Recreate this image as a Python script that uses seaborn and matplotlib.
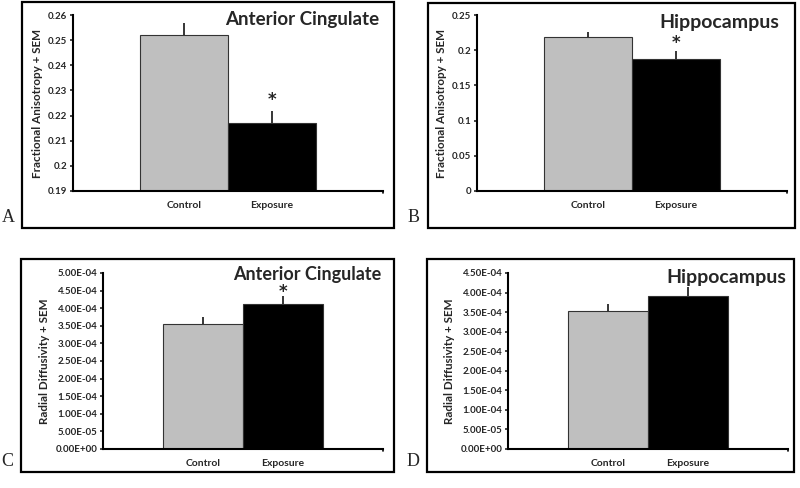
import matplotlib
matplotlib.use("Agg")
import matplotlib.pyplot as plt
import matplotlib.patches as mpatches
import seaborn as sns
import numpy as np

# ---- data ----
groups = ["Control", "Exposure"]

fa_acc_mean = [0.252, 0.217]
fa_acc_sem = [0.005, 0.005]
fa_hip_mean = [0.219, 0.188]
fa_hip_sem = [0.007, 0.011]

rd_acc_mean = [3.55e-4, 4.13e-4]
rd_acc_sem = [0.20e-4, 0.21e-4]
rd_hip_mean = [3.53e-4, 3.90e-4]
rd_hip_sem = [0.18e-4, 0.24e-4]

signif_acc_fa = [False, True]
signif_hip_fa = [False, True]
signif_acc_rd = [False, True]
signif_hip_rd = [False, False]

fa_ticks_acc = [0.19, 0.2, 0.21, 0.22, 0.23, 0.24, 0.25, 0.26]
fa_ticks_hip = [0, 0.05, 0.1, 0.15, 0.2, 0.25]
rd_ticks_acc = np.arange(0, 5.01e-4, 0.5e-4)
rd_ticks_hip = np.arange(0, 4.51e-4, 0.5e-4)

sns.set_style("white")
plt.rcParams["font.family"] = ["Lato", "DejaVu Sans"]

W, H = 800, 488
fig = plt.figure(figsize=(W / 100, H / 100), dpi=100)

BAR_COLORS = ["#bfbfbf", "#000000"]


def px_axes(left, top, right, bottom):
    return fig.add_axes([left / W, 1 - bottom / H, (right - left) / W, (bottom - top) / H])


def frame(left, top, right, bottom, letter):
    rect = mpatches.Rectangle((left / W, 1 - bottom / H), (right - left) / W, (bottom - top) / H,
                              transform=fig.transFigure, fill=False, lw=1.6, ec="black")
    fig.patches.append(rect)
    fig.text((left - 14) / W, 1 - (bottom - 10) / H, letter, family="Liberation Serif",
             fontsize=13, ha="center", va="center")


def panel(ax, means, sems, signif, ticks, ylim, fmt, ylabel, title, title_pos, star_px):
    sns.barplot(x=groups, y=means, hue=groups, palette=BAR_COLORS, width=1.0,
                edgecolor="#333333", linewidth=0.8, legend=False, ax=ax)
    ax.errorbar(range(len(groups)), means, yerr=[np.zeros(len(sems)), sems],
                fmt="none", ecolor="black", elinewidth=1.1, capsize=0)
    for i, s in enumerate(signif):
        if s:
            ax.annotate("*", (i, means[i] + sems[i]), xytext=(0, star_px * 0.72),
                        textcoords="offset points", ha="center", va="center",
                        fontsize=12, fontweight="bold", family="DejaVu Sans")
    ax.set_xlim(-1.26, 2.26)
    ax.set_ylim(*ylim)
    ax.set_yticks(ticks)
    ax.set_yticklabels([fmt(t) for t in ticks], fontsize=7, fontweight="bold")
    ax.tick_params(axis="y", length=2, width=1.2, pad=2, direction="out", left=True)
    ax.tick_params(axis="x", length=0, labelsize=7.5, pad=7)
    for lab in ax.get_xticklabels():
        lab.set_fontweight("bold")
    ax.set_xlabel("")
    ax.set_ylabel(ylabel, fontsize=8.4, fontweight="bold", labelpad=4)
    for side in ("top", "right"):
        ax.spines[side].set_visible(False)
    for side in ("left", "bottom"):
        ax.spines[side].set_linewidth(1.5)
        ax.spines[side].set_color("black")
    # small tick at the right end of the category axis
    ax.plot([1, 1], [0, -0.012], transform=ax.transAxes, color="black", lw=1.2, clip_on=False)
    ax.text(title_pos[0], title_pos[1], title, transform=ax.transAxes, ha="right", va="center",
            fontsize=title_pos[2], fontweight="bold")


def fa_fmt(t):
    return f"{t:g}"


def rd_fmt(t):
    m, e = f"{t:.2E}".split("E")
    return f"{m}E{int(e):+03d}"


frame(22, 2, 394, 228, "A")
frame(428, 3, 795, 228, "B")
frame(21, 259, 394, 472, "C")
frame(427, 259, 794, 472, "D")

axA = px_axes(73, 15, 383, 191)
panel(axA, fa_acc_mean, fa_acc_sem, signif_acc_fa, fa_ticks_acc, (0.19, 0.26), fa_fmt,
      "Fractional Anisotropy + SEM", "Anterior Cingulate", (0.987, 0.975, 13.5), 11)

axB = px_axes(477, 15, 787, 191)
panel(axB, fa_hip_mean, fa_hip_sem, signif_hip_fa, fa_ticks_hip, (0, 0.25), fa_fmt,
      "Fractional Anisotropy + SEM", "Hippocampus", (0.974, 0.96, 14), 8)

axC = px_axes(103, 273, 383, 449)
panel(axC, rd_acc_mean, rd_acc_sem, signif_acc_rd, rd_ticks_acc, (0, 5.0e-4), rd_fmt,
      "Radial Diffusivity + SEM", "Anterior Cingulate", (0.993, 0.99, 13), 4)

axD = px_axes(508, 273, 788, 449)
panel(axD, rd_hip_mean, rd_hip_sem, signif_hip_rd, rd_ticks_hip, (0, 4.5e-4), rd_fmt,
      "Radial Diffusivity + SEM", "Hippocampus", (0.993, 0.977, 14), 0)

fig.savefig("out.png", dpi=100)
